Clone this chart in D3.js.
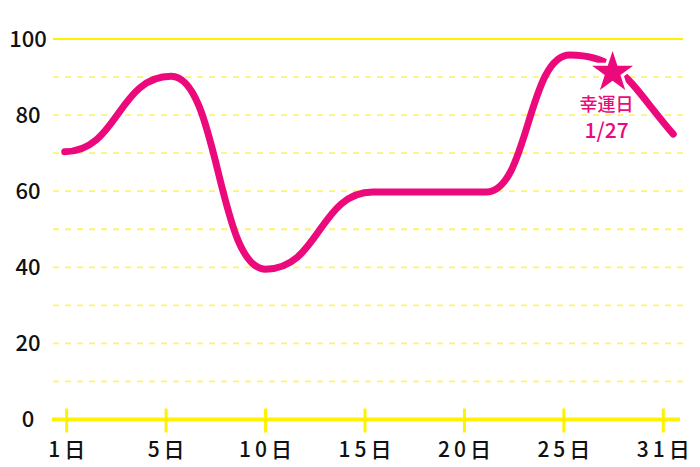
<!DOCTYPE html>
<html>
<head>
<meta charset="utf-8">
<script src="https://cdn.jsdelivr.net/npm/d3@7"></script>
<style>
  body { margin: 0; background: #fff; }
  svg { display: block; }
  text { font-family: "Noto Sans CJK JP", "Noto Sans", sans-serif; }
</style>
</head>
<body>
<div id="chart"></div>
<script>

// x categories (tick labels) and y axis values
const days = ["1", "5", "10", "15", "20", "25", "31"];
const yTicks = [0, 20, 40, 60, 80, 100];
const gridValues = [10, 20, 30, 40, 50, 60, 70, 80, 90];

// line points: position along the category axis (in tick units) and value
const linePos    = [-0.02, 1.05, 2.0, 3.08, 4.22, 5.06, 6.1];
const lineValues = [70.4, 90.2, 39.5, 59.8, 59.8, 95.8, 75];

// highlighted day
const lucky = { label: "幸運日", date: "1/27", pos: 5.49, value: 91.2 };

const width = 700, height = 467;
const pink = "#ec097c";
const yellow = "#fff200";

let svg = d3.select("#chart")
            .append("svg")
                .attr("width", width)
                .attr("height", height);

let x = d3.scaleLinear().domain([0, days.length - 1]).range([66.7, 663.3]);
let y = d3.scaleLinear().domain([0, 100]).range([419.5, 39]);

// dashed grid
svg.append("g").selectAll("line")
    .data(gridValues)
    .enter()
    .append("line")
        .attr("x1", 53)
        .attr("x2", 683)
        .attr("y1", d => y(d))
        .attr("y2", d => y(d))
        .attr("stroke", "#fff46a")
        .attr("stroke-width", 1.8)
        .attr("stroke-dasharray", "6,6");

// solid line at top
svg.append("line")
    .attr("x1", 53).attr("x2", 683)
    .attr("y1", y(100)).attr("y2", y(100))
    .attr("stroke", yellow)
    .attr("stroke-width", 2);

// bottom axis
svg.append("line")
    .attr("x1", 52).attr("x2", 680)
    .attr("y1", y(0)).attr("y2", y(0))
    .attr("stroke", yellow)
    .attr("stroke-width", 4);

svg.append("g").selectAll("line")
    .data(days)
    .enter()
    .append("line")
        .attr("x1", (d, i) => x(i))
        .attr("x2", (d, i) => x(i))
        .attr("y1", y(0) - 11)
        .attr("y2", y(0) + 13)
        .attr("stroke", yellow)
        .attr("stroke-width", 3);

// y labels
svg.append("g").selectAll("text")
    .data(yTicks)
    .enter()
    .append("text")
        .attr("x", 28)
        .attr("y", d => y(d))
        .attr("dy", "0.36em")
        .attr("text-anchor", "middle")
        .attr("font-size", 22)
        .attr("font-weight", 500)
        .attr("fill", "#111")
        .text(d => d);

// x labels
svg.append("g").selectAll("text")
    .data(days)
    .enter()
    .append("text")
        .attr("x", (d, i) => x(i) + 2)
        .attr("y", 457)
        .attr("text-anchor", "middle")
        .attr("font-size", 21)
        .attr("font-weight", 500)
        .attr("letter-spacing", "4px")
        .attr("fill", "#111")
        .text(d => d + "日");

// line: flat tangents at every point, steeper tangent at the last one
let pts = linePos.map((p, i) => [x(p), y(lineValues[i])]);
let n = pts.length;
let slopes = pts.map(() => 0);
slopes[n - 1] = 1.5 * (pts[n - 1][1] - pts[n - 2][1]) / (pts[n - 1][0] - pts[n - 2][0]);

let path = d3.path();
path.moveTo(pts[0][0], pts[0][1]);
for (let i = 1; i < n; i++) {
    let [x0, y0] = pts[i - 1], [x1, y1] = pts[i];
    let h = x1 - x0;
    let k0 = slopes[i - 1] === 0 ? 0.5 : 0.4;
    let k1 = slopes[i] === 0 ? 0.5 : 0.4;
    path.bezierCurveTo(x0 + k0 * h, y0 + slopes[i - 1] * k0 * h,
                       x1 - k1 * h, y1 - slopes[i] * k1 * h,
                       x1, y1);
}

svg.append("path")
    .attr("d", path.toString())
    .attr("fill", "none")
    .attr("stroke", pink)
    .attr("stroke-width", 7)
    .attr("stroke-linecap", "round")
    .attr("stroke-linejoin", "round");

// star marker
let sx = x(lucky.pos), sy = y(lucky.value);
svg.append("path")
    .attr("d", d3.symbol(d3.symbolStar, 520)())
    .attr("transform", "translate(" + sx + "," + sy + ")")
    .attr("fill", pink)
    .attr("stroke", "#fff")
    .attr("stroke-width", 6)
    .attr("stroke-linejoin", "miter")
    .style("paint-order", "stroke");

svg.append("text")
    .attr("x", sx - 6)
    .attr("y", sy + 39)
    .attr("text-anchor", "middle")
    .attr("font-size", 18)
    .attr("font-weight", 500)
    .attr("fill", pink)
    .text(lucky.label);

svg.append("text")
    .attr("x", sx - 6)
    .attr("y", sy + 66)
    .attr("text-anchor", "middle")
    .attr("font-size", 21)
    .attr("font-weight", 500)
    .attr("fill", pink)
    .text(lucky.date);

</script>
</body>
</html>
